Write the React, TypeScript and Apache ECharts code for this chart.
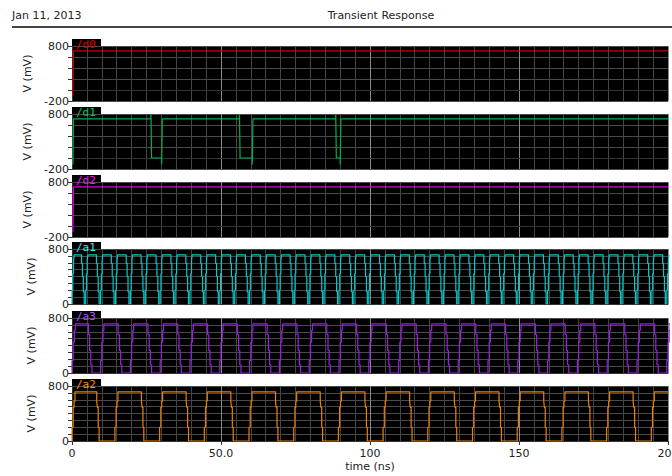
import React, { useEffect, useRef } from "react";
import * as echarts from "echarts";

// ---- data (time in ns, voltage in mV) ----
const d0 = [[0, 0], [0.3, -110], [0.5, 710], [200, 710]];
const d1 = [
  [0, 0], [0.3, -120], [0.5, 710],
  [26.5, 790], [26.7, 0], [30.1, -120], [30.3, 710],
  [56.2, 790], [56.4, 0], [60.5, -120], [60.7, 710],
  [88.5, 790], [88.7, 0], [90.0, -120], [90.2, 710],
  [200, 710],
];
const d2 = [[0, 0], [0.3, -110], [0.5, 710], [200, 710]];

const a1Rise = [0, 4.6, 9.6, 14.6, 19.6, 24.6, 29.6, 34.6, 39.6, 44.6, 49.6, 54.6, 59.6, 64.6, 69.6, 74.6, 79.6, 84.6, 89.6, 94.6, 99.6, 104.6, 109.6, 114.6, 119.6, 124.6, 129.6, 134.6, 139.6, 144.6, 149.6, 154.6, 159.6, 164.6, 169.6, 174.6, 179.6, 184.6, 189.6, 194.6, 199.6];
const a1Fall = [3.2, 8.2, 13.2, 18.2, 23.2, 28.2, 33.2, 38.2, 43.2, 48.2, 53.2, 58.2, 63.2, 68.2, 73.2, 78.2, 83.2, 88.2, 93.2, 98.2, 103.2, 108.2, 113.2, 118.2, 123.2, 128.2, 133.2, 138.2, 143.2, 148.2, 153.2, 158.2, 163.2, 168.2, 173.2, 178.2, 183.2, 188.2, 193.2, 198.2];
const a1RiseSteps = [[0, 200], [0.25, 440], [0.5, 620], [0.7, 715]];
const a1FallSteps = [[0, 590], [0.3, 400], [0.6, 180], [0.9, 0]];

const a3Rise = [0, 9.6, 19.6, 29.6, 39.6, 49.6, 59.6, 69.6, 79.6, 89.6, 99.6, 109.6, 119.6, 129.6, 139.6, 149.6, 159.6, 169.6, 179.6, 189.6, 199.6];
const a3Fall = [5.5, 15.5, 25.5, 35.5, 45.5, 55.5, 65.5, 75.5, 85.5, 95.5, 105.5, 115.5, 125.5, 135.5, 145.5, 155.5, 165.5, 175.5, 185.5, 195.5];
const a3RiseSteps = [[0, 180], [0.4, 450], [0.8, 620], [1.1, 715]];
const a3FallSteps = [[0, 560], [0.4, 330], [0.8, 120], [1.2, 0]];

const a2Rise = [0, 14.4, 29.4, 44.4, 59.4, 74.4, 89.4, 104.4, 119.4, 134.4, 149.4, 164.4, 179.4, 194.4];
const a2Fall = [8.3, 23.3, 38.3, 53.3, 68.3, 83.3, 98.3, 113.3, 128.3, 143.3, 158.3, 173.3, 188.3];
const a2RiseSteps = [[0, 200], [0.4, 490], [0.7, 580], [1.0, 715]];
const a2FallSteps = [[0, 580], [0.2, 490], [0.5, 200], [0.8, 0]];

const signalNames = ["/d0", "/d1", "/d2", "/a1", "/a3", "/a2"];
const signalColors = ["#c80000", "#00b050", "#e000e0", "#00cccc", "#9a1ee6", "#f08000"];
const labelColors = ["#e00000", "#10c060", "#ff10ff", "#40e8e8", "#b050ff", "#ff9010"];
const yMins = [-200, -200, -200, 0, 0, 0];
const yMaxs = [800, 800, 800, 800, 800, 800];
const yIntervals = [200, 200, 200, 100, 100, 100];
const xTickLabels: Record<number, string> = { 0: "0", 50: "50.0", 100: "100", 150: "150", 200: "200" };

function buildWave(rises: number[], falls: number[], riseSteps: number[][], fallSteps: number[][]) {
  const events = [
    ...rises.map((t) => ({ t, steps: riseSteps })),
    ...falls.map((t) => ({ t, steps: fallSteps })),
  ].sort((a, b) => a.t - b.t);
  const pts: number[][] = [[0, 0]];
  for (const e of events) for (const [dt, v] of e.steps) pts.push([e.t + dt, v]);
  pts.push([200, pts[pts.length - 1][1]]);
  return pts;
}

const tops = [46, 114, 182, 249, 318, 386];
const H = 55;

export default function App() {
  const ref = useRef<HTMLDivElement>(null);
  useEffect(() => {
    if (!ref.current) return;
    const chart = echarts.init(ref.current, undefined, { renderer: "svg" });
    const waves = [
      d0, d1, d2,
      buildWave(a1Rise, a1Fall, a1RiseSteps, a1FallSteps),
      buildWave(a3Rise, a3Fall, a3RiseSteps, a3FallSteps),
      buildWave(a2Rise, a2Fall, a2RiseSteps, a2FallSteps),
    ];
    const font = "DejaVu Sans";
    const grids = tops.map((t) => ({
      left: 72, right: 4, top: t, height: H,
      show: true, backgroundColor: "#000", borderWidth: 0,
      containLabel: false, outerBoundsMode: "none",
    }));
    const xAxes = tops.map((_, i) => {
      const last = i === tops.length - 1;
      return {
        type: "value", gridIndex: i, min: 0, max: 200, interval: 50,
        axisLine: { show: true, lineStyle: { color: "#333", width: 1 } },
        axisTick: { show: last, length: 4, lineStyle: { color: "#333" } },
        axisLabel: {
          show: last, margin: 7, fontSize: 11, color: "#222", fontFamily: font,
          hideOverlap: false, showMaxLabel: true,
          formatter: (v: number) => xTickLabels[v] ?? "",
        },
        splitLine: { show: true, lineStyle: { color: "#8a8a8a", width: 1 } },
        minorTick: { show: false, splitNumber: 10 },
        minorSplitLine: { show: true, lineStyle: { color: "#444", width: 1 } },
        name: last ? "time (ns)" : "",
        nameLocation: "middle", nameGap: 20,
        nameTextStyle: { fontSize: 11, color: "#222", fontFamily: font },
      };
    });
    const yAxes = tops.map((_, i) => ({
      type: "value", gridIndex: i, min: yMins[i], max: yMaxs[i], interval: yIntervals[i],
      axisLine: { show: true, lineStyle: { color: "#333", width: 1 } },
      axisTick: { show: true, length: 4, lineStyle: { color: "#333" } },
      axisLabel: {
        margin: 3, fontSize: 11, color: "#222", fontFamily: font,
        formatter: (v: number) => (v === yMins[i] || v === yMaxs[i] ? String(v) : ""),
      },
      splitLine: { show: true, lineStyle: { color: "#4a4a4a", width: 1 } },
      name: "V (mV)", nameLocation: "middle", nameGap: 34,
      nameTextStyle: { fontSize: 11, color: "#222", fontFamily: font },
    }));
    const series = waves.map((w, i) => ({
      type: "line", xAxisIndex: i, yAxisIndex: i, data: w, step: "end",
      showSymbol: false, symbol: "none", clip: true,
      lineStyle: { color: signalColors[i], width: 1.2 },
    }));
    const graphic: any[] = [
      { type: "text", x: 12, y: 15, z: 20, style: { text: "Jan 11, 2013", font: `11px ${font}`, fill: "#222", verticalAlign: "middle" } },
      { type: "text", x: 381, y: 15, z: 20, style: { text: "Transient Response", font: `11px ${font}`, fill: "#222", align: "center", verticalAlign: "middle" } },
      { type: "line", z: 20, shape: { x1: 12, y1: 27, x2: 672, y2: 27 }, style: { stroke: "#444", lineWidth: 2 } },
    ];
    tops.forEach((t, i) => {
      graphic.push({ type: "rect", z: 20, shape: { x: 72, y: t - 7, width: 29, height: 7 }, style: { fill: "#000" } });
      graphic.push({
        type: "text", z: 21, x: 76, y: t - 7,
        style: { text: signalNames[i], font: "11px DejaVu Sans Mono", fill: labelColors[i], verticalAlign: "top" },
      });
    });
    chart.setOption({
      animation: false,
      grid: grids, xAxis: xAxes, yAxis: yAxes, series, graphic,
    } as any);
    return () => chart.dispose();
  }, []);
  return (
    <div
      ref={ref}
      style={{ position: "fixed", left: 0, top: 0, width: 672, height: 476, background: "#fff" }}
    />
  );
}
